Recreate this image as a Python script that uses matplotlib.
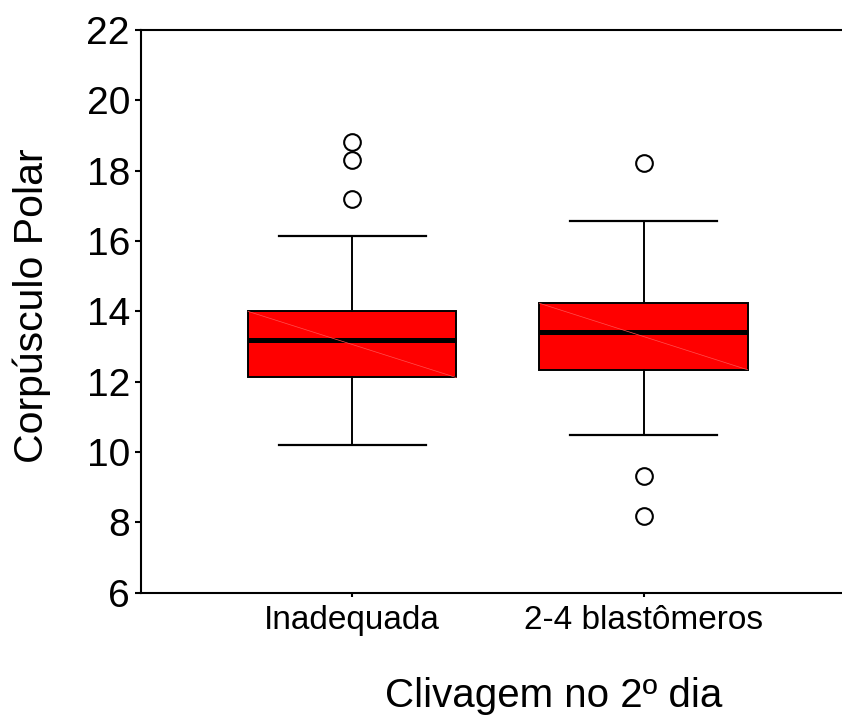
import matplotlib
matplotlib.use("Agg")
import matplotlib.pyplot as plt

plt.rcParams["font.family"] = ["Liberation Sans", "DejaVu Sans"]

# Box summaries for "Corpúsculo Polar" by cleavage group
groups = ["Inadequada", "2-4 blastômeros"]
q1 = [12.12, 12.34]
medians = [13.19, 13.42]
q3 = [14.00, 14.23]
whisker_low = [10.21, 10.49]
whisker_high = [16.13, 16.58]
outliers = [[18.83, 18.31, 17.19], [18.21, 9.31, 8.19]]

y_ticks = [6, 8, 10, 12, 14, 16, 18, 20, 22]

positions = list(range(1, len(groups) + 1))
box_width = 0.714

stats = []
for i, name in enumerate(groups):
    stats.append({
        "label": name,
        "q1": q1[i],
        "med": medians[i],
        "q3": q3[i],
        "whislo": whisker_low[i],
        "whishi": whisker_high[i],
        "fliers": outliers[i],
    })

fig = plt.figure(figsize=(8.42, 7.27), dpi=100)
ax = fig.add_axes([0.1675, 0.1847, 0.8325, 0.774])

ax.bxp(
    stats,
    positions=positions,
    widths=box_width,
    capwidths=box_width * 0.706,
    patch_artist=True,
    boxprops=dict(facecolor="#ff0000", edgecolor="black", linewidth=1.4),
    medianprops=dict(color="black", linewidth=3.6, solid_capstyle="butt"),
    whiskerprops=dict(color="black", linewidth=1.4),
    capprops=dict(color="black", linewidth=1.6),
    flierprops=dict(marker="o", markersize=12, markerfacecolor="white",
                    markeredgecolor="black", markeredgewidth=1.5),
    zorder=3,
)

# faint diagonal shading line across each box
for pos, lo, hi in zip(positions, q1, q3):
    ax.plot([pos - box_width / 2, pos + box_width / 2], [hi, lo],
            color="#ff5050", linewidth=0.5, zorder=3.5)

ax.set_xlim(0.276, 2.681)
ax.set_ylim(6, 22)
ax.set_yticks(y_ticks)
ax.set_xticks(positions)
ax.set_xticklabels(groups, fontsize=24)
ax.tick_params(axis="y", labelsize=28, length=4, width=1.5, direction="out", pad=4)
ax.tick_params(axis="x", length=3, width=1.5, direction="out", pad=6)

for side in ("left", "top", "bottom"):
    ax.spines[side].set_linewidth(1.5)
ax.spines["right"].set_visible(False)

ax.set_ylabel("Corpúsculo Polar", fontsize=29.5, va="center")
ax.yaxis.set_label_coords(-0.156, 0.51)
ax.set_xlabel("Clivagem no 2º dia", fontsize=29, va="center")
ax.xaxis.set_label_coords(0.589, -0.183)

fig.savefig("out.png", dpi=100)
